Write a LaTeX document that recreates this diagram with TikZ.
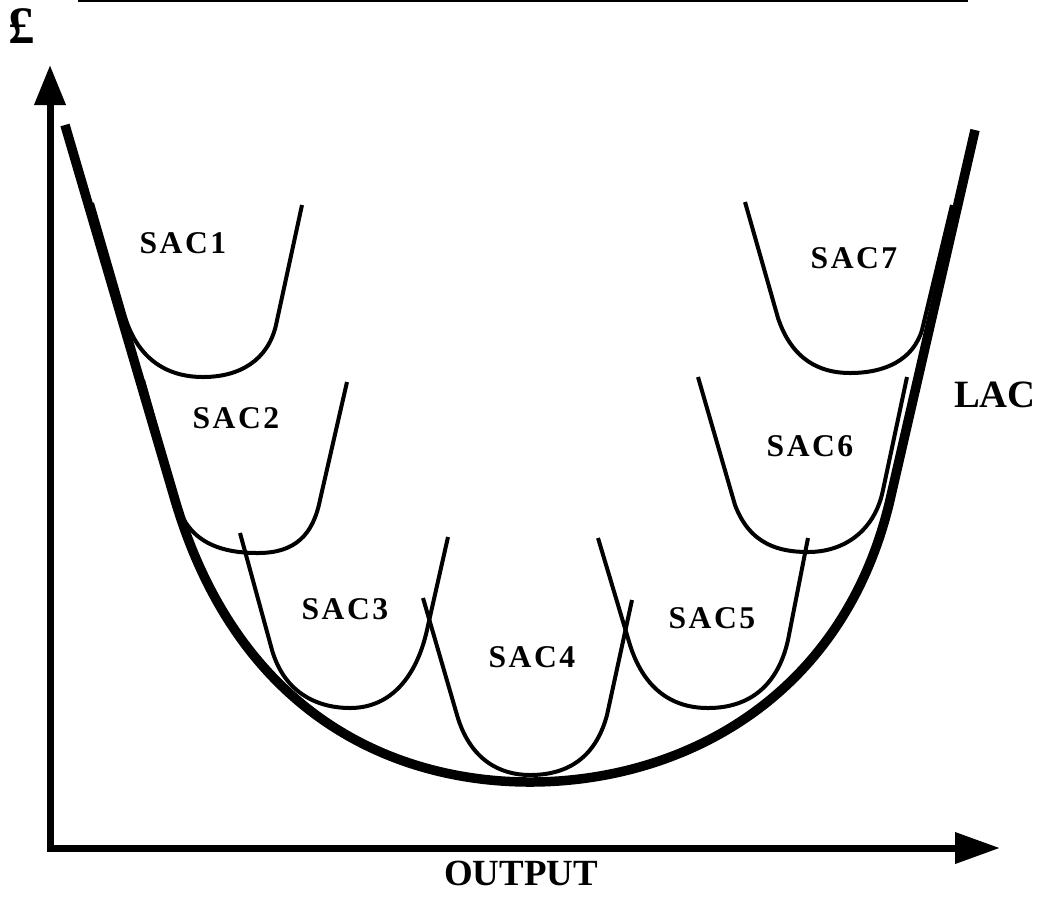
\documentclass[tikz,border=0pt]{standalone}
\usepackage{fontspec}
\usetikzlibrary{arrows.meta}
\newfontfamily\saclabelfont[LetterSpace=8]{Liberation Serif}
\newfontfamily\axislabelfont{Liberation Serif}

\begin{document}
\begin{tikzpicture}[x=0.1mm, y=-0.1mm,
    lac/.style={line width=0.95mm},
    sac/.style={line width=0.4mm},
    axisline/.style={line width=0.7mm},
    saclabel/.style={font={\saclabelfont\bfseries\fontsize{9}{10}\selectfont}},
    biglabel/.style={font={\axislabelfont\bfseries\fontsize{11}{12}\selectfont}}]
    \useasboundingbox (0,0) rectangle (1038,899);

    % Rule at the top
    \draw[line width=0.2mm] (78,1) -- (968,1);

    % Axes
    \coordinate (origin) at (50,848);
    \coordinate (ytip) at (50,65);
    \coordinate (xtip) at (1000,848);
    \draw[axisline, {Triangle[length=4mm,width=3mm]}-{Triangle[length=4.5mm,width=3mm]}] (ytip) -- (origin) -- (xtip);
    \node (pound) at (22,26) {\axislabelfont\bfseries\fontsize{15}{15}\selectfont\textsterling};
    \node[biglabel, font={\axislabelfont\bfseries\fontsize{10.5}{12}\selectfont}] (output) at (521,873) {OUTPUT};

    % Long-run average cost
    \draw[lac] (65,125) -- (175,500) .. controls (240,720) and (400,782) .. (530,782)
        .. controls (680,782) and (843,700) .. (890,500) -- (975,130);
    \node[biglabel] (lac) at (995,395) {LAC};

    % Short-run average costs
    \draw[sac] (92,203) -- (125,317) .. controls (139,362) and (170,377) .. (203,377)
        .. controls (240,377) and (268,360) .. (276,325) -- (302,205);
    \draw[sac] (143,380) -- (177,503) .. controls (189,545) and (225,553) .. (258,553)
        .. controls (295,553) and (313,535) .. (320,500) -- (347,382);
    \draw[sac] (240,533) -- (272,650) .. controls (285,695) and (320,708) .. (350,708)
        .. controls (392,708) and (417,675) .. (427,630) -- (448,537);
    \draw[sac] (423,598) -- (457,715) .. controls (470,760) and (500,775) .. (530,775)
        .. controls (565,775) and (595,760) .. (607,715) -- (632,600);
    \draw[sac] (598,538) -- (630,645) .. controls (645,692) and (675,708) .. (708,708)
        .. controls (750,708) and (778,685) .. (788,640) -- (808,538);
    \draw[sac] (698,377) -- (735,505) .. controls (750,545) and (780,552) .. (808,552)
        .. controls (845,552) and (875,530) .. (883,490) -- (907,377);
    \draw[sac] (745,202) -- (778,318) .. controls (792,360) and (820,373) .. (850,373)
        .. controls (885,373) and (913,360) .. (922,330) -- (952,205);

    \node[saclabel] (sac1) at (183,243) {SAC1};
    \node[saclabel] (sac2) at (236,418) {SAC2};
    \node[saclabel] (sac3) at (345,609) {SAC3};
    \node[saclabel] (sac4) at (532,657) {SAC4};
    \node[saclabel] (sac5) at (712,618) {SAC5};
    \node[saclabel] (sac6) at (810,446) {SAC6};
    \node[saclabel] (sac7) at (854,258) {SAC7};
\end{tikzpicture}
\end{document}
